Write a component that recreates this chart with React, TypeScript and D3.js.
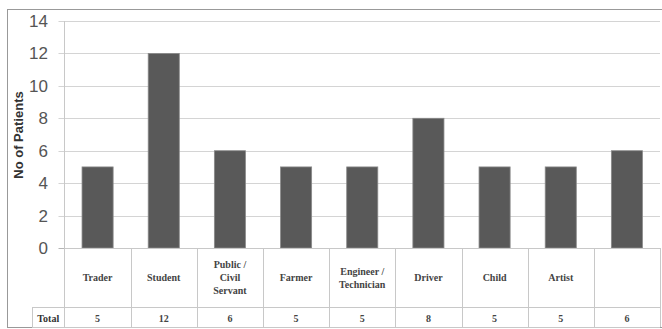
import { useEffect, useRef } from "react"
import * as d3 from "d3"

const categories = ["Trader", "Student", "Public / Civil Servant", "Farmer", "Engineer / Technician", "Driver", "Child", "Artist", ""]
const categoryLines = [["Trader"], ["Student"], ["Public /", "Civil", "Servant"], ["Farmer"], ["Engineer /", "Technician"], ["Driver"], ["Child"], ["Artist"], []]
const patients = [5, 12, 6, 5, 5, 8, 5, 5, 6]
const yTicks = [0, 2, 4, 6, 8, 10, 12, 14]

export default function App() {
    const ref = useRef<SVGSVGElement | null>(null)

    useEffect(() => {
        document.body.style.margin = "0"
        const svg = d3.select(ref.current)
        svg.selectAll("*").remove()

        const width = 662
        const height = 329
        const left = 64.5
        const right = 660
        const top = 21
        const bottom = 248
        const catRowBottom = 307
        const tableBottom = 327
        const labelLeft = 32
        const grey = "#c8c8c8"

        svg.append("rect")
            .attr("x", 0).attr("y", 0)
            .attr("width", width).attr("height", height)
            .attr("fill", "#fff")

        svg.append("rect")
            .attr("x", 7.5).attr("y", 9.5)
            .attr("width", 660).attr("height", 318)
            .attr("fill", "none")
            .attr("stroke", "#999")

        const x = d3.scaleBand<string>()
            .domain(categories.map((c, i) => i + ":" + c))
            .range([left, right])
            .paddingInner(0.53)
            .paddingOuter(0.265)

        const xBand = d3.scaleBand<string>()
            .domain(categories.map((c, i) => i + ":" + c))
            .range([left, right])

        const y = d3.scaleLinear().domain([0, 14]).range([bottom, top])

        // gridlines with tick stubs
        svg.append("g")
            .selectAll("line")
            .data(yTicks)
            .join("line")
            .attr("x1", left - 6)
            .attr("x2", right)
            .attr("y1", d => Math.round(y(d)) + 0.5)
            .attr("y2", d => Math.round(y(d)) + 0.5)
            .attr("stroke", d => d === 0 ? "#b5b5b5" : "#d4d4d4")
            .attr("stroke-width", 1.2)

        svg.append("g")
            .selectAll("text")
            .data(yTicks)
            .join("text")
            .attr("x", 48)
            .attr("y", d => y(d))
            .attr("dy", "0.35em")
            .attr("text-anchor", "end")
            .attr("font-family", "Liberation Sans, Arial, sans-serif")
            .attr("font-size", 17)
            .attr("fill", "#555")
            .text(d => d)

        svg.append("text")
            .attr("transform", `translate(23,135) rotate(-90)`)
            .attr("text-anchor", "middle")
            .attr("font-family", "Liberation Sans, Arial, sans-serif")
            .attr("font-size", 13)
            .attr("font-weight", 700)
            .attr("fill", "#333")
            .text("No of Patients")

        // bars
        svg.append("g")
            .selectAll("rect")
            .data(patients)
            .join("rect")
            .attr("x", (d, i) => x(i + ":" + categories[i])!)
            .attr("y", d => y(d))
            .attr("width", x.bandwidth())
            .attr("height", d => bottom - y(d))
            .attr("fill", "#595959")
            .attr("stroke", "#8a8a8a")
            .attr("stroke-width", 0.8)

        // data table
        const table = svg.append("g")
        const hLine = (yy: number, x1: number) =>
            table.append("line")
                .attr("x1", x1).attr("x2", right)
                .attr("y1", yy + 0.5).attr("y2", yy + 0.5)
                .attr("stroke", grey)
        hLine(bottom, left)
        hLine(catRowBottom, labelLeft)
        hLine(tableBottom, labelLeft)

        table.append("line")
            .attr("x1", left).attr("x2", left)
            .attr("y1", top).attr("y2", tableBottom)
            .attr("stroke", grey)
        table.append("line")
            .attr("x1", labelLeft + 0.5).attr("x2", labelLeft + 0.5)
            .attr("y1", catRowBottom).attr("y2", tableBottom)
            .attr("stroke", grey)

        table.selectAll("line.sep")
            .data(categories)
            .join("line")
            .attr("class", "sep")
            .attr("x1", (c, i) => Math.round(xBand(i + ":" + c)! + xBand.bandwidth()) + 0.5)
            .attr("x2", (c, i) => Math.round(xBand(i + ":" + c)! + xBand.bandwidth()) + 0.5)
            .attr("y1", bottom)
            .attr("y2", tableBottom)
            .attr("stroke", grey)

        const font = "Liberation Serif, serif"
        categoryLines.forEach((lines, i) => {
            const cx = xBand(i + ":" + categories[i])! + xBand.bandwidth() / 2
            const lh = 13
            const start = (bottom + catRowBottom) / 2 - ((lines.length - 1) * lh) / 2
            lines.forEach((t, j) => {
                table.append("text")
                    .attr("x", cx)
                    .attr("y", start + j * lh)
                    .attr("dy", "0.35em")
                    .attr("text-anchor", "middle")
                    .attr("font-family", font)
                    .attr("font-size", 10)
                    .attr("font-weight", 700)
                    .attr("fill", "#444")
                    .text(t)
            })
            table.append("text")
                .attr("x", cx)
                .attr("y", (catRowBottom + tableBottom) / 2 + 1)
                .attr("dy", "0.35em")
                .attr("text-anchor", "middle")
                .attr("font-family", font)
                .attr("font-size", 10)
                .attr("font-weight", 700)
                .attr("fill", "#444")
                .text(patients[i])
        })

        table.append("text")
            .attr("x", (labelLeft + left) / 2)
            .attr("y", (catRowBottom + tableBottom) / 2 + 1)
            .attr("dy", "0.35em")
            .attr("text-anchor", "middle")
            .attr("font-family", font)
            .attr("font-size", 10)
            .attr("font-weight", 700)
            .attr("fill", "#333")
            .text("Total")
    }, [])

    return <svg ref={ref} width={662} height={329} style={{ display: "block" }} />
}
